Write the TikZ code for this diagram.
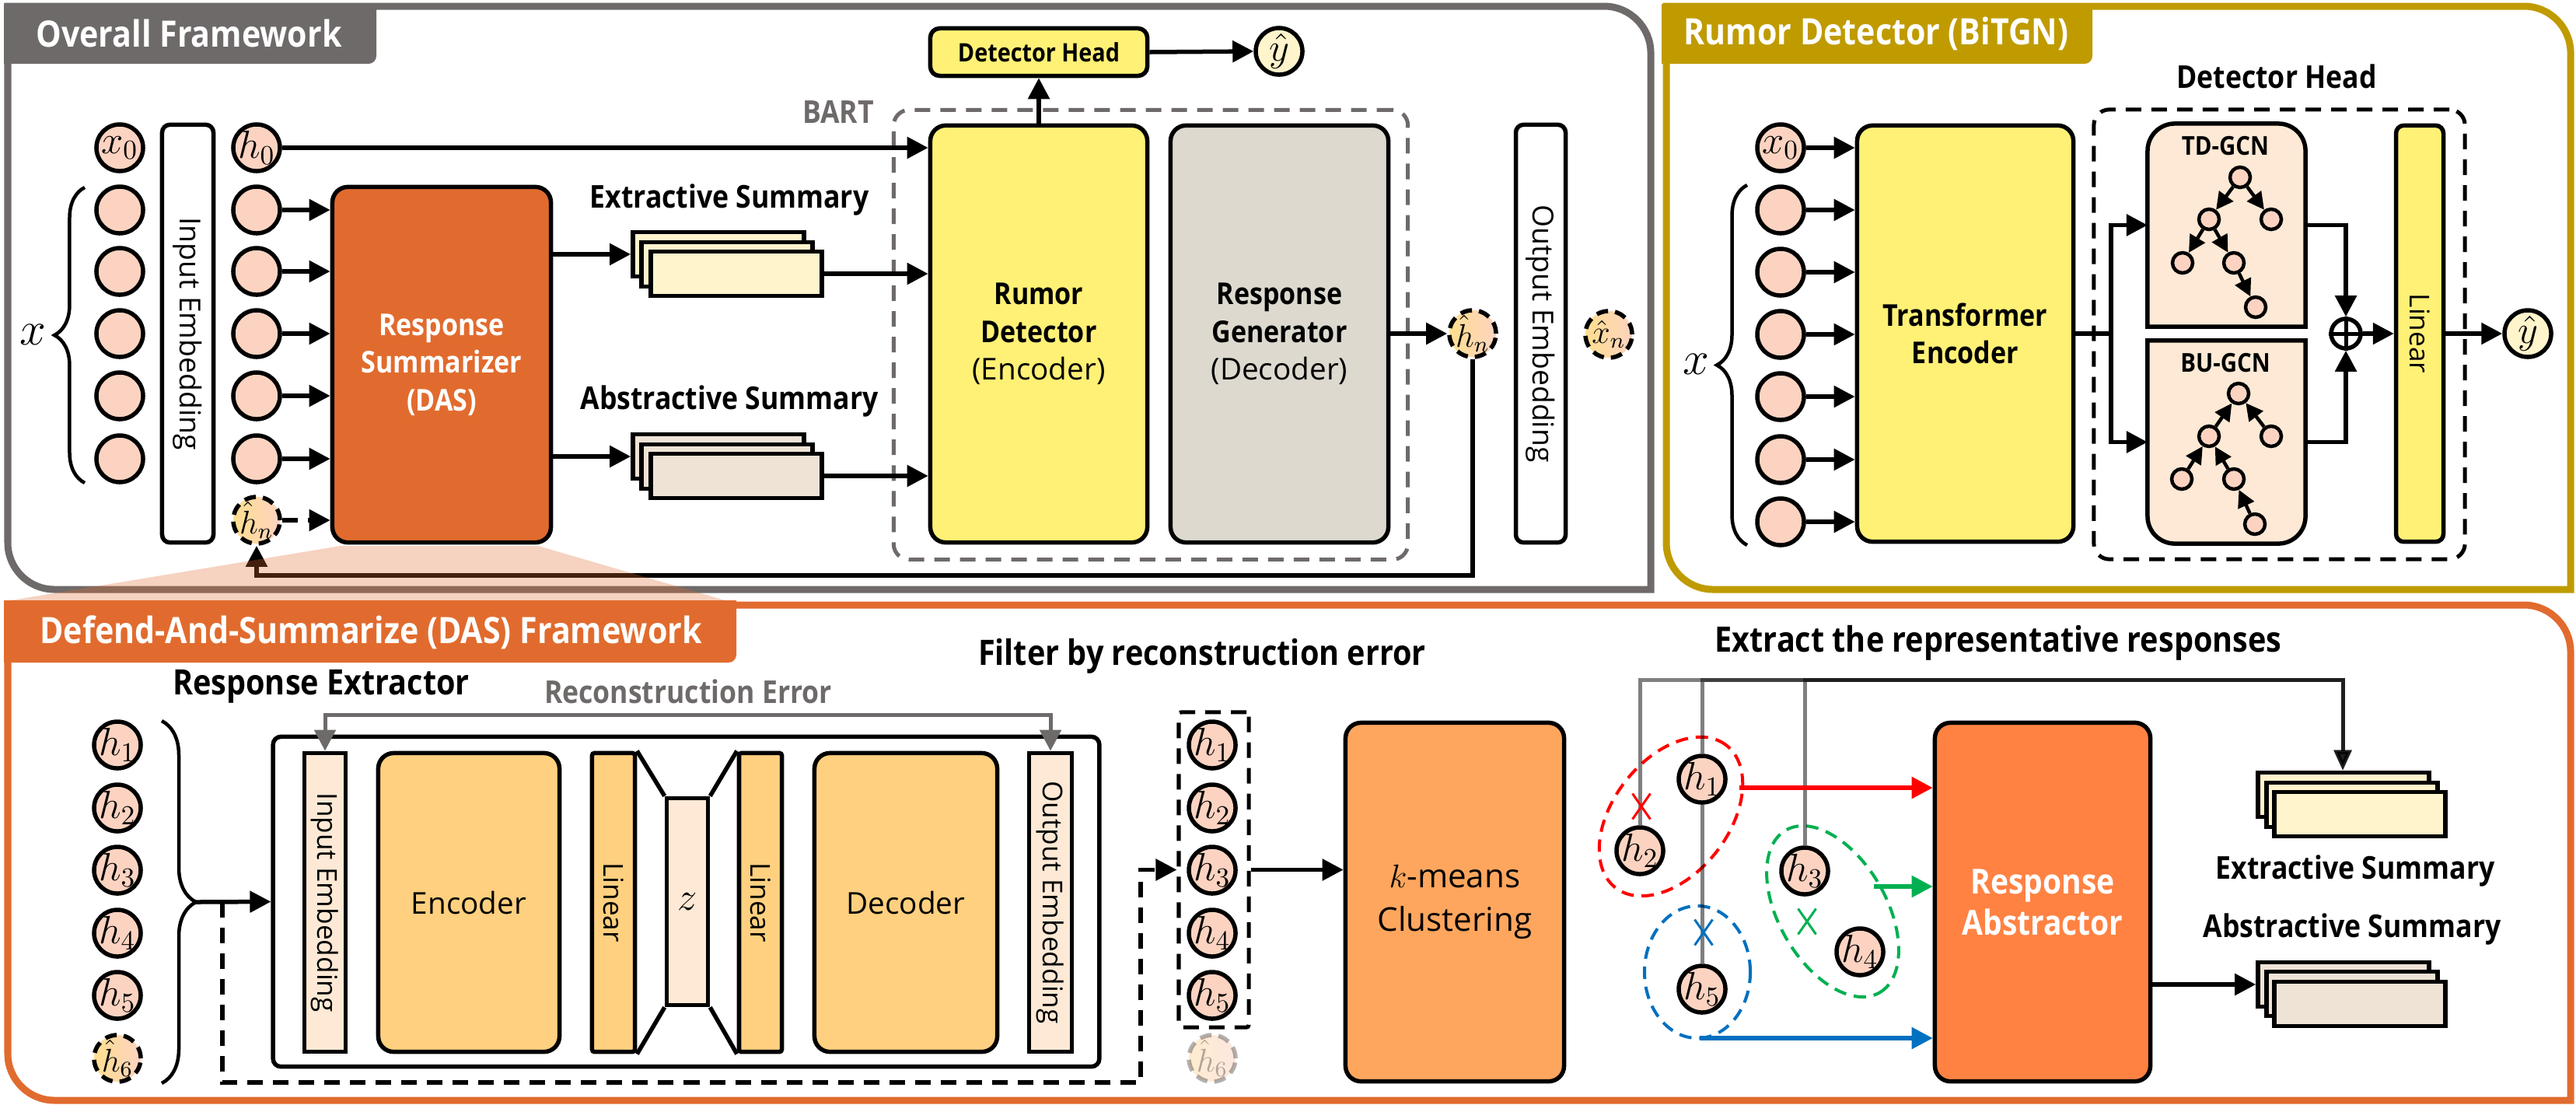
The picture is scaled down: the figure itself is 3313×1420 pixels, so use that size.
\documentclass[tikz,border=0pt]{standalone}
\usepackage[no-math]{fontspec}
\setmainfont[BoldFeatures={FakeStretch=0.88}]{Open Sans}
\usetikzlibrary{arrows.meta,shapes.geometric,shapes.misc,decorations.pathreplacing}

\definecolor{frameGray}{HTML}{6F6A6A}
\definecolor{frameGold}{HTML}{BF9B00}
\definecolor{frameOrange}{HTML}{E16B2E}
\definecolor{tokenPink}{HTML}{FCD3C1}
\definecolor{softYellow}{HTML}{FFF4CC}
\definecolor{softTan}{HTML}{EFE3D6}
\definecolor{softPeach}{HTML}{FDE9D5}
\definecolor{mainYellow}{HTML}{FFF176}
\definecolor{genGray}{HTML}{DDD9CF}
\definecolor{aeOrange}{HTML}{FFD07F}
\definecolor{kmOrange}{HTML}{FFA65E}
\definecolor{absOrange}{HTML}{FF8243}
\definecolor{hatYellow}{HTML}{FFDE8F}
\definecolor{clusterGreen}{HTML}{00B050}
\definecolor{clusterBlue}{HTML}{0070C0}

\tikzset{
  panel/.style={line width=.09cm},
  panelTitle/.style={text=white, font=\bfseries\fontsize{13.3}{15}\selectfont},
  box/.style={draw, line width=.055cm, rounded corners=.2cm, inner sep=0pt, align=center, font=\fontsize{11}{13.8}\selectfont},
  thinBox/.style={box, rounded corners=.1cm, font=\fontsize{10.6}{13}\selectfont},
  flatBox/.style={box, rounded corners=0pt},
  token/.style={circle, draw, line width=.055cm, fill=tokenPink, minimum size=.6cm, inner sep=-.1cm, font=\fontsize{14}{16}\selectfont},
  hatToken/.style={token, dash pattern=on .15cm off .09cm, left color=hatYellow, right color=tokenPink, font=\fontsize{12}{14}\selectfont},
  treeToken/.style={circle, draw, line width=.045cm, fill=tokenPink, minimum size=.26cm, inner sep=0pt},
  sumCard/.style={draw, line width=.055cm, minimum width=2.2cm, minimum height=.57cm, inner sep=0pt},
  heading/.style={font=\bfseries\fontsize{11.5}{13}\selectfont},
  bigHeading/.style={font=\bfseries\fontsize{12.8}{14}\selectfont},
  arr/.style={line width=.055cm, -{Triangle[length=.27cm,width=.27cm]}},
  treeArr/.style={line width=.045cm, -{Triangle[length=.22cm,width=.22cm]}},
  dashArr/.style={arr, dash pattern=on .2cm off .13cm},
  dashFrame/.style={draw, line width=.05cm, dash pattern=on .2cm off .13cm, rounded corners=.2cm, inner sep=0pt},
  cluster/.style={ellipse, draw, line width=.04cm, dash pattern=on .16cm off .1cm, inner sep=0pt},
  crossMark/.style={cross out, draw, line width=.03cm, minimum width=.2cm, minimum height=.3cm, inner sep=0pt},
  brc/.style={decorate, line width=.045cm}
}

\begin{document}
\begin{tikzpicture}[x=.01cm, y=-.01cm]
  \useasboundingbox (0,0) rectangle (3313,1420);

  \draw[panel, draw=frameGray] (10,8) [rounded corners=.6cm] -- (2123,8) [sharp corners] -- (2123,758) [rounded corners=.6cm] -- (10,758) [sharp corners] -- (10,8) -- cycle;
  \fill[frameGray] (5,5) -- (484,5) [rounded corners=.1cm] -- (484,82) [sharp corners] -- (5,82) -- cycle;
  \node (overallTitle) at (243,43) [panelTitle] {Overall Framework};

  \draw[panel, draw=frameGold] (2143,8) [rounded corners=.6cm] -- (3306,8) [sharp corners] -- (3306,758) [rounded corners=.6cm] -- (2143,758) [sharp corners] -- (2143,8) -- cycle;
  \fill[frameGold] (2137,5) -- (2691,5) [rounded corners=.1cm] -- (2691,82) [sharp corners] -- (2137,82) -- cycle;
  \node (rumorTitle) at (2413,43) [panelTitle] {Rumor Detector (BiTGN)};

  \node (xZero) at (154,190) [token] {$x_0$};
  \node (xA) at (154,270) [token] {};
  \node (xB) at (154,349) [token] {};
  \node (xC) at (154,429) [token] {};
  \node (xD) at (154,509) [token] {};
  \node (xE) at (154,590) [token] {};
  \draw[brc, decoration={brace, amplitude=.39cm}] (109,621) -- (109,241);
  \node (xLabel) at (42,430) [font=\fontsize{17}{19}\selectfont] {$x$};

  \node (inEmbed) at (241.5,429) [thinBox, minimum width=.66cm, minimum height=5.37cm] {\rotatebox{-90}{Input Embedding}};

  \node (hZero) at (330,190) [token] {$h_0$};
  \node (hA) at (330,270) [token] {};
  \node (hB) at (330,349) [token] {};
  \node (hC) at (330,429) [token] {};
  \node (hD) at (330,509) [token] {};
  \node (hE) at (330,590) [token] {};
  \node (hatHl) at (330,669) [hatToken] {$\hat{h}_n$};

  \node (respSum) at (568,469) [box, fill=frameOrange, text=white, font=\bfseries\fontsize{11}{13.8}\selectfont, minimum width=2.81cm, minimum height=4.57cm] {Response\\Summarizer\\(DAS)};

  \draw[arr] (hA.east) -- (hA.east -| respSum.west);
  \draw[arr] (hB.east) -- (hB.east -| respSum.west);
  \draw[arr] (hC.east) -- (hC.east -| respSum.west);
  \draw[arr] (hD.east) -- (hD.east -| respSum.west);
  \draw[arr] (hE.east) -- (hE.east -| respSum.west);
  \draw[dashArr] (hatHl.east) -- (hatHl.east -| respSum.west);

  \node (exLabel) at (938,257) [heading] {Extractive Summary};
  \node (exA) at (924,327) [sumCard, fill=softYellow] {};
  \node (exB) at (935,340) [sumCard, fill=softYellow] {};
  \node (exC) at (947,352) [sumCard, fill=softYellow] {};
  \node (abLabel) at (938,516) [heading] {Abstractive Summary};
  \node (abA) at (924,587) [sumCard, fill=softTan] {};
  \node (abB) at (935,600) [sumCard, fill=softTan] {};
  \node (abC) at (947,612) [sumCard, fill=softTan] {};
  \draw[arr] (exA.west -| respSum.east) -- (exA.west);
  \draw[arr] (abA.west -| respSum.east) -- (abA.west);

  \node (bartBox) at (1480,430.5) [dashFrame, draw=frameGray, minimum width=6.61cm, minimum height=5.78cm] {};
  \node (bartLabel) at (1078,144) [heading, text=frameGray] {BART};
  \node (rumorDet) at (1336,429.5) [box, fill=mainYellow, minimum width=2.79cm, minimum height=5.36cm] {\textbf{Rumor}\\\textbf{Detector}\\(Encoder)};
  \node (respGen) at (1645.5,429.5) [box, fill=genGray, minimum width=2.8cm, minimum height=5.36cm] {\textbf{Response}\\\textbf{Generator}\\(Decoder)};
  \draw[arr] (hZero.east) -- (hZero.east -| rumorDet.west);
  \draw[arr] (exC.east) -- (exC.east -| rumorDet.west);
  \draw[arr] (abC.east) -- (abC.east -| rumorDet.west);

  \node (detHead) at (1336,67) [box, rounded corners=.12cm, fill=mainYellow, font=\bfseries\fontsize{9.3}{11}\selectfont, minimum width=2.79cm, minimum height=.61cm] {Detector Head};
  \node (yHatL) at (1645,66) [token, fill=softYellow] {$\hat{y}$};
  \draw[arr] (rumorDet.north) -- (detHead.south);
  \draw[arr] (detHead.east) -- (yHatL.west);

  \node (hatHr) at (1894,429) [hatToken] {$\hat{h}_n$};
  \node (outEmbed) at (1981.5,429) [thinBox, minimum width=.64cm, minimum height=5.37cm] {\rotatebox{-90}{Output Embedding}};
  \node (hatX) at (2069,430) [hatToken] {$\hat{x}_n$};
  \draw[arr] (hatHr.west -| respGen.east) -- (hatHr.west);
  \coordinate (returnTurn) at (1100,740);
  \draw[arr] (hatHr.south) |- (returnTurn) -| (hatHl.south);

  \fill[frameOrange, opacity=.3] (438,702) -- (692,702) -- (936,773) -- (8,773) -- cycle;

  \node (rxZero) at (2290,190) [token] {$x_0$};
  \node (rxA) at (2290,270) [token] {};
  \node (rxB) at (2290,350) [token] {};
  \node (rxC) at (2290,430) [token] {};
  \node (rxD) at (2290,510) [token] {};
  \node (rxE) at (2290,591) [token] {};
  \node (rxF) at (2290,671) [token] {};
  \draw[brc, decoration={brace, amplitude=.39cm}] (2247,701) -- (2247,238);
  \node (rxLabel) at (2181,468) [font=\fontsize{17}{19}\selectfont] {$x$};

  \node (transEnc) at (2527.5,429) [box, fill=mainYellow, font=\bfseries\fontsize{11}{13.8}\selectfont, minimum width=2.78cm, minimum height=5.35cm] {Transformer\\Encoder};
  \draw[arr] (rxZero.east) -- (rxZero.east -| transEnc.west);
  \draw[arr] (rxA.east) -- (rxA.east -| transEnc.west);
  \draw[arr] (rxB.east) -- (rxB.east -| transEnc.west);
  \draw[arr] (rxC.east) -- (rxC.east -| transEnc.west);
  \draw[arr] (rxD.east) -- (rxD.east -| transEnc.west);
  \draw[arr] (rxE.east) -- (rxE.east -| transEnc.west);
  \draw[arr] (rxF.east) -- (rxF.east -| transEnc.west);

  \node (headLabel) at (2928,98) [heading] {Detector Head};
  \node (headBox) at (2931.5,430) [dashFrame, minimum width=4.77cm, minimum height=5.78cm] {};

  \node (tdGcn) at (2863.5,289.5) [minimum width=1.98cm, minimum height=2.56cm, inner sep=0pt, outer sep=.025cm] {};
  \draw[line width=.055cm, fill=softPeach] (tdGcn.south west) [rounded corners=.35cm] -- (tdGcn.north west) -- (tdGcn.north east) [sharp corners] -- (tdGcn.south east) -- cycle;
  \node (tdLabel) at (2862,188) [font=\bfseries\fontsize{9.5}{11}\selectfont] {TD-GCN};
  \node (tdRoot) at (2881,228) [treeToken] {};
  \node (tdLeft) at (2841,282) [treeToken] {};
  \node (tdRight) at (2921,282) [treeToken] {};
  \node (tdLl) at (2807,338) [treeToken] {};
  \node (tdLr) at (2873,338) [treeToken] {};
  \node (tdLeaf) at (2901,395) [treeToken] {};
  \draw[treeArr] (tdRoot) -- (tdLeft);
  \draw[treeArr] (tdRoot) -- (tdRight);
  \draw[treeArr] (tdLeft) -- (tdLl);
  \draw[treeArr] (tdLeft) -- (tdLr);
  \draw[treeArr] (tdLr) -- (tdLeaf);

  \node (buGcn) at (2863.5,568.5) [minimum width=1.98cm, minimum height=2.56cm, inner sep=0pt, outer sep=.025cm] {};
  \draw[line width=.055cm, fill=softPeach] (buGcn.north east) [rounded corners=.35cm] -- (buGcn.south east) -- (buGcn.south west) [sharp corners] -- (buGcn.north west) -- cycle;
  \node (buLabel) at (2862,467) [font=\bfseries\fontsize{9.5}{11}\selectfont] {BU-GCN};
  \node (buRoot) at (2879,506) [treeToken] {};
  \node (buLeft) at (2841,561) [treeToken] {};
  \node (buRight) at (2921,561) [treeToken] {};
  \node (buLl) at (2806,616) [treeToken] {};
  \node (buLr) at (2873,616) [treeToken] {};
  \node (buLeaf) at (2900,674) [treeToken] {};
  \draw[treeArr] (buLeft) -- (buRoot);
  \draw[treeArr] (buRight) -- (buRoot);
  \draw[treeArr] (buLl) -- (buLeft);
  \draw[treeArr] (buLr) -- (buLeft);
  \draw[treeArr] (buLeaf) -- (buLr);

  \coordinate (split) at (2715,429);
  \draw[line width=.055cm] (transEnc.east) -- (split);
  \draw[arr] (split) |- (tdGcn.west);
  \draw[arr] (split) |- (buGcn.west);

  \node (linearR) at (3112,429) [thinBox, fill=mainYellow, font=\fontsize{10}{12}\selectfont, minimum width=.61cm, minimum height=5.35cm] {\rotatebox{-90}{Linear}};
  \node (oplus) at (3017,429) [circle, draw, line width=.055cm, fill=white, minimum size=.38cm, inner sep=0pt] {};
  \draw[line width=.05cm] (oplus.north) -- (oplus.south);
  \draw[line width=.05cm] (oplus.west) -- (oplus.east);
  \draw[arr] (tdGcn.east) -| (oplus.north);
  \draw[arr] (buGcn.east) -| (oplus.south);
  \draw[arr] (oplus.east) -- (linearR.west);
  \node (yHatR) at (3251,429) [token, fill=softYellow] {$\hat{y}$};
  \draw[arr] (linearR.east) -- (yHatR.west);

  \draw[panel, draw=frameOrange] (10,778) [rounded corners=.6cm] -- (3306,778) [sharp corners] -- (3306,1415) [rounded corners=.6cm] -- (10,1415) [sharp corners] -- (10,778) -- cycle;
  \fill[frameOrange] (5,772) -- (947,772) [rounded corners=.1cm] -- (947,852) [sharp corners] -- (5,852) -- cycle;
  \node (dasTitle) at (477,813) [panelTitle] {Defend-And-Summarize (DAS) Framework};

  \node (extractLabel) at (413,883) [bigHeading] {Response Extractor};
  \node (errLabel) at (885,889) [heading, text=frameGray] {Reconstruction Error};
  \node (filterLabel) at (1546,844) [bigHeading] {Filter by reconstruction error};
  \node (reprLabel) at (2570,827) [bigHeading] {Extract the representative responses};

  \node (hOne) at (151,958) [token] {$h_1$};
  \node (hTwo) at (151,1039) [token] {$h_2$};
  \node (hThree) at (151,1119) [token] {$h_3$};
  \node (hFour) at (151,1200) [token] {$h_4$};
  \node (hFive) at (151,1280) [token] {$h_5$};
  \node (hSix) at (151,1361) [hatToken] {$\hat{h}_6$};
  \draw[brc, decoration={brace, amplitude=.44cm}] (208,927) -- (208,1393);
  \coordinate (braceTip) at (252,1160);

  \node (extractorBox) at (882.5,1159.5) [thinBox, fill=white, minimum width=10.62cm, minimum height=4.24cm] {};
  \draw[arr] (braceTip) -- (extractorBox.west);
  \node (inEmbedD) at (418,1160.5) [flatBox, fill=softPeach, font=\fontsize{10}{12}\selectfont, minimum width=.53cm, minimum height=3.84cm] {\rotatebox{-90}{Input Embedding}};
  \node (encBox) at (603,1160.5) [box, fill=aeOrange, minimum width=2.33cm, minimum height=3.84cm] {Encoder};
  \node (linearL) at (789,1160.5) [thinBox, rounded corners=.03cm, fill=aeOrange, font=\fontsize{10}{12}\selectfont, minimum width=.55cm, minimum height=3.84cm] {\rotatebox{-90}{Linear}};
  \node (zBox) at (884,1159.5) [flatBox, fill=softPeach, minimum width=.53cm, minimum height=2.66cm, font=\fontsize{14}{16}\selectfont] {$z$};
  \node (linearM) at (978,1160.5) [thinBox, rounded corners=.03cm, fill=aeOrange, font=\fontsize{10}{12}\selectfont, minimum width=.55cm, minimum height=3.84cm] {\rotatebox{-90}{Linear}};
  \node (decBox) at (1165,1160.5) [box, fill=aeOrange, minimum width=2.35cm, minimum height=3.84cm] {Decoder};
  \node (outEmbedD) at (1351,1160.5) [flatBox, fill=softPeach, font=\fontsize{10}{12}\selectfont, minimum width=.55cm, minimum height=3.84cm] {\rotatebox{-90}{Output Embedding}};
  \draw[line width=.055cm] (linearL.north east) -- (zBox.north west);
  \draw[line width=.055cm] (linearL.south east) -- (zBox.south west);
  \draw[line width=.055cm] (linearM.north west) -- (zBox.north east);
  \draw[line width=.055cm] (linearM.south west) -- (zBox.south east);

  \coordinate (errTop) at (886,919);
  \draw[line width=.05cm, draw=frameGray, {Triangle[length=.27cm,width=.27cm]}-{Triangle[length=.27cm,width=.27cm]}] (inEmbedD.north) |- (errTop) -| (outEmbedD.north);

  \node (filterBox) at (1561,1118.5) [dashFrame, rounded corners=.03cm, minimum width=.9cm, minimum height=4.05cm] {};
  \node (fOne) at (1559,958) [token] {$h_1$};
  \node (fTwo) at (1559,1039) [token] {$h_2$};
  \node (fThree) at (1559,1119) [token] {$h_3$};
  \node (fFour) at (1559,1200) [token] {$h_4$};
  \node (fFive) at (1559,1280) [token] {$h_5$};
  \node (fSix) at (1559,1361) [hatToken, opacity=.3] {$\hat{h}_6$};

  \coordinate (dashStart) at (286,1160);
  \coordinate (dashTurn) at (1467,1392);
  \draw[dashArr] (dashStart) |- (dashTurn) |- (filterBox.west);

  \node (kMeans) at (1871,1160) [box, fill=kmOrange, font=\fontsize{12}{16}\selectfont, minimum width=2.81cm, minimum height=4.61cm] {$k$-means\\Clustering};
  \draw[arr] (filterBox.east) -- (filterBox.east -| kMeans.west);

  \node (absBox) at (2627,1160) [box, fill=absOrange, text=white, font=\bfseries\fontsize{12.6}{15}\selectfont, minimum width=2.77cm, minimum height=4.61cm] {Response\\Abstractor};

  \node (pExA) at (3014,1022) [sumCard, fill=softYellow] {};
  \node (pExB) at (3025,1035) [sumCard, fill=softYellow] {};
  \node (pExC) at (3035,1047) [sumCard, fill=softYellow] {};
  \node (pAbA) at (3014,1266) [sumCard, fill=softTan] {};
  \node (pAbB) at (3025,1278) [sumCard, fill=softTan] {};
  \node (pAbC) at (3035,1291) [sumCard, fill=softTan] {};
  \node (pExLabel) at (3029,1120) [heading] {Extractive Summary};
  \node (pAbLabel) at (3025,1195) [heading] {Abstractive Summary};
  \draw[arr] (pAbA.west -| absBox.east) -- (pAbA.west);

  \node (cOne) at (2189,1002) [token] {$h_1$};
  \node (cTwo) at (2109,1094) [token] {$h_2$};
  \node (cThree) at (2321,1120) [token] {$h_3$};
  \node (cFour) at (2392,1224) [token] {$h_4$};
  \node (cFive) at (2189,1272) [token] {$h_5$};

  \node (redCluster) at (2149,1050) [cluster, draw=red, rotate=52, minimum width=2.32cm, minimum height=1.48cm] {};
  \node (greenCluster) at (2357,1172) [cluster, draw=clusterGreen, rotate=-60, minimum width=2.41cm, minimum height=1.38cm] {};
  \node (blueCluster) at (2183,1250) [cluster, draw=clusterBlue, minimum width=1.36cm, minimum height=1.7cm] {};

  \coordinate (sumTop) at (3013,874);
  \draw[line width=.05cm, opacity=.5, -{Triangle[length=.26cm,width=.22cm]}] (cTwo.north) |- (sumTop) -- (sumTop |- pExA.north);
  \draw[line width=.05cm, opacity=.5, -{Triangle[length=.26cm,width=.22cm]}] (cOne.north) |- (sumTop) -- (sumTop |- pExA.north);
  \draw[line width=.05cm, opacity=.5, -{Triangle[length=.26cm,width=.22cm]}] (cThree.north) |- (sumTop) -- (sumTop |- pExA.north);
  \draw[line width=.05cm, opacity=.5] (cOne.south) -- (cFive.north);

  \node (redX) at (2111,1037) [crossMark, draw=red] {};
  \node (greenX) at (2324,1185) [crossMark, draw=clusterGreen] {};
  \node (blueX) at (2191,1199) [crossMark, draw=clusterBlue] {};

  \coordinate (redStart) at (2237,1013);
  \coordinate (greenStart) at (2410,1140);
  \coordinate (blueStart) at (2186,1335);
  \draw[arr, draw=red] (redStart) -- (redStart -| absBox.west);
  \draw[arr, draw=clusterGreen] (greenStart) -- (greenStart -| absBox.west);
  \draw[arr, draw=clusterBlue] (blueStart) -- (blueStart -| absBox.west);
\end{tikzpicture}
\end{document}
